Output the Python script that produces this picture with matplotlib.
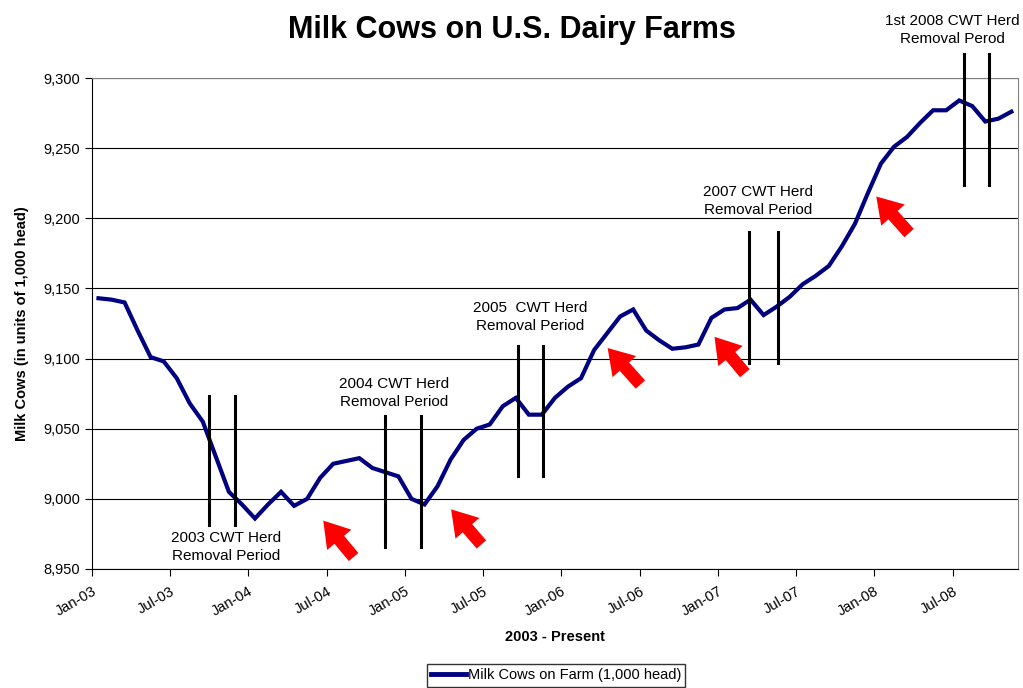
import matplotlib
matplotlib.use("Agg")
import matplotlib.pyplot as plt
from matplotlib.patches import FancyArrowPatch
from matplotlib.ticker import FuncFormatter

plt.rcParams["font.family"] = ["Liberation Sans", "DejaVu Sans"]

# monthly milk cows, Jan-03 .. Nov-08 (1,000 head)
cows = [
    9143, 9142, 9140, 9120, 9101, 9098, 9086, 9068, 9055, 9030, 9005, 8996,
    8986, 8996, 9005, 8995, 9000, 9015, 9025, 9027, 9029, 9022, 9019, 9016,
    9000, 8996, 9009, 9028, 9042, 9050, 9053, 9066, 9072, 9060, 9060, 9072,
    9080, 9086, 9106, 9118, 9130, 9135, 9120, 9113, 9107, 9108, 9110, 9129,
    9135, 9136, 9142, 9131, 9137, 9144, 9153, 9159, 9166, 9180, 9196, 9218,
    9239, 9251, 9258, 9268, 9277, 9277, 9284, 9280, 9269, 9271, 9276,
]
tick_labels = ["Jan-03", "Jul-03", "Jan-04", "Jul-04", "Jan-05", "Jul-05",
               "Jan-06", "Jul-06", "Jan-07", "Jul-07", "Jan-08", "Jul-08"]

# herd removal periods: (start month, end month, line bottom, line top)
periods = [
    (9.0, 11.0, 8981, 9073),
    (22.5, 25.2, 8966, 9059),
    (32.7, 34.6, 9016, 9109),
    (50.4, 52.6, 9097, 9190),
    (66.9, 68.8, 9224, 9317),
]
period_labels = ["2003 CWT Herd\nRemoval Period", "2004 CWT Herd\nRemoval Period",
                 "2005  CWT Herd\nRemoval Period", "2007 CWT Herd\nRemoval Period",
                 "1st 2008 CWT Herd\nRemoval Perod"]
label_pos = [(10.3, 8977), (23.2, 9064), (33.6, 9118), (51.1, 9201), (66.0, 9323)]
label_va = ["top", "bottom", "bottom", "bottom", "bottom"]

# red arrows: (tail x, tail y, tip x, tip y)
arrows = [
    (20.2, 8957, 17.6, 8986),
    (30.0, 8966, 27.4, 8994),
    (42.2, 9080, 39.4, 9109),
    (50.2, 9088, 47.6, 9117),
    (62.8, 9188, 60.0, 9217),
]

fig = plt.figure(figsize=(10.23, 6.88), dpi=100)
ax = fig.add_axes([0.0899, 0.173, 0.9051, 0.7136])

x = [i + 0.5 for i in range(len(cows))]
ax.plot(x, cows, color="#000080", lw=3, label="Milk Cows on Farm (1,000 head)",
        solid_joinstyle="miter", zorder=3)

for (x0, x1, lo, hi) in periods:
    for xv in (x0, x1):
        ax.plot([xv, xv], [lo, hi], color="black", lw=2.2, clip_on=False, zorder=4)

for txt, (tx, ty), va in zip(period_labels, label_pos, label_va):
    ax.text(tx, ty, txt, ha="center", va=va, fontsize=11, linespacing=1.35)

for (x0, y0, x1, y1) in arrows:
    ax.add_patch(FancyArrowPatch((x0, y0), (x1, y1),
                                 arrowstyle="simple,head_width=1.9,head_length=1.5,tail_width=0.75",
                                 mutation_scale=12, color="#ff0000", lw=0, zorder=5))

ax.set_xlim(0, 71)
ax.set_ylim(8950, 9300)
ax.set_yticks(range(8950, 9301, 50))
ax.yaxis.set_major_formatter(FuncFormatter(lambda v, p: f"{int(v):,}"))
ax.set_xticks(range(0, 72, 6))
ax.set_xticklabels(tick_labels, rotation=30, ha="right", rotation_mode="anchor")
ax.tick_params(axis="both", labelsize=10.5, direction="out", length=5, color="black")
ax.tick_params(axis="x", pad=6)
ax.grid(axis="y", color="black", lw=0.8)
ax.set_axisbelow(True)
for side in ("top", "right"):
    ax.spines[side].set_color("#808080")
for side in ("left", "bottom"):
    ax.spines[side].set_color("black")

ax.set_xlabel("2003 - Present", fontsize=10.5, fontweight="bold", labelpad=8)
ax.set_ylabel("Milk Cows (in units of 1,000 head)", fontsize=10.5, fontweight="bold", labelpad=10)
fig.text(0.5, 0.956, "Milk Cows on U.S. Dairy Farms", ha="center", va="center",
         fontsize=22, fontweight="bold")

leg = fig.legend(loc="upper center", bbox_to_anchor=(0.5435, 0.035), frameon=True,
                 fancybox=False, fontsize=10.5, handlelength=2.4, handletextpad=0.1,
                 borderpad=0.3, borderaxespad=0, edgecolor="black")
leg.get_frame().set_linewidth(1.0)
for h in leg.get_lines():
    h.set_linewidth(3.5)

fig.savefig("out.png", dpi=100)
